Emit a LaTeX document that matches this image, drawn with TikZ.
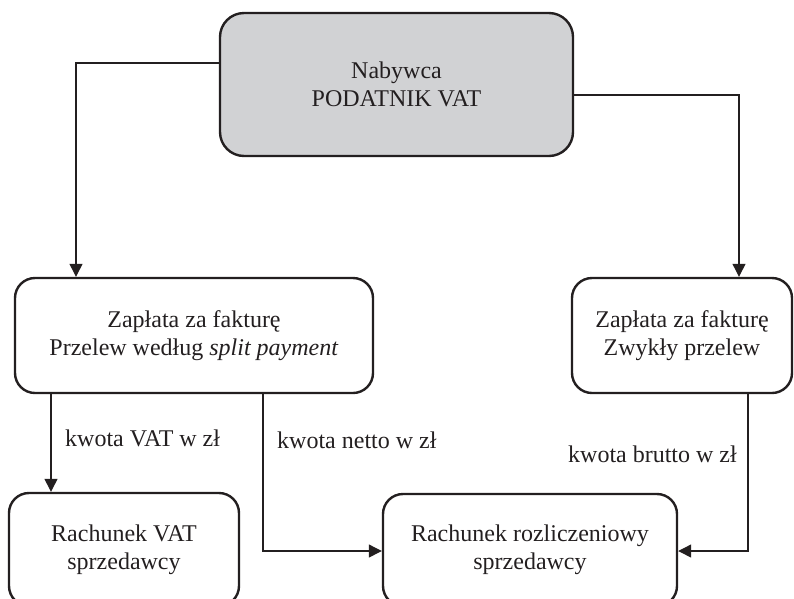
\documentclass[tikz,border=0pt]{standalone}
\usepackage{fontspec}
\setmainfont{Liberation Serif}
\usetikzlibrary{arrows.meta}
\definecolor{boxgrey}{HTML}{D1D2D4}
\definecolor{ink}{HTML}{231F20}
\begin{document}
\begin{tikzpicture}[x=1pt,y=-1pt,
  every node/.style={font=\fontsize{24}{28}\selectfont, text=ink},
  box/.style={draw=ink, line width=2.4pt, rounded corners=20pt, align=center, inner sep=0pt},
  conn/.style={draw=ink, line width=1.2pt, -{Triangle[length=13pt,width=13pt]}},
  lbl/.style={inner sep=0pt}]
\useasboundingbox (0,0) rectangle (794,598);
\clip (0,0) rectangle (794,598);
\node[box, fill=boxgrey, rounded corners=24pt, minimum width=353pt, minimum height=143pt] (top) at (396.5,84.5) {Nabywca\\PODATNIK VAT};
\node[box, minimum width=358pt, minimum height=115pt] (lm) at (194,335.5) {Zapłata za fakturę\\Przelew według \textit{split payment}};
\node[box, minimum width=220pt, minimum height=115pt] (rm) at (682,335.5) {Zapłata za fakturę\\Zwykły przelew};
\node[box, minimum width=230pt, minimum height=113pt] (bl) at (124,549.5) {Rachunek VAT\\sprzedawcy};
\node[box, minimum width=294pt, minimum height=112pt] (br) at (530,550) {Rachunek rozliczeniowy\\sprzedawcy};
\coordinate (c1) at (76,63);
\coordinate (c2) at (739,95);
\coordinate (c3) at (51,0);
\coordinate (c4) at (263,551);
\coordinate (c5) at (748,551);
\draw[conn] (top.west |- c1) -| (lm.north -| c1);
\draw[conn] (top.east |- c2) -| (rm.north -| c2);
\draw[conn] (lm.south -| c3) -- (bl.north -| c3);
\draw[conn] (lm.south -| c4) |- (br.west |- c4);
\draw[conn] (rm.south -| c5) |- (br.east |- c5);
\node[lbl, anchor=base west] (l1) at (65,446) {kwota VAT w zł};
\node[lbl, anchor=base west] (l2) at (277,448) {kwota netto w zł};
\node[lbl, anchor=base east] (l3) at (737,462) {kwota brutto w zł};
\end{tikzpicture}
\end{document}
